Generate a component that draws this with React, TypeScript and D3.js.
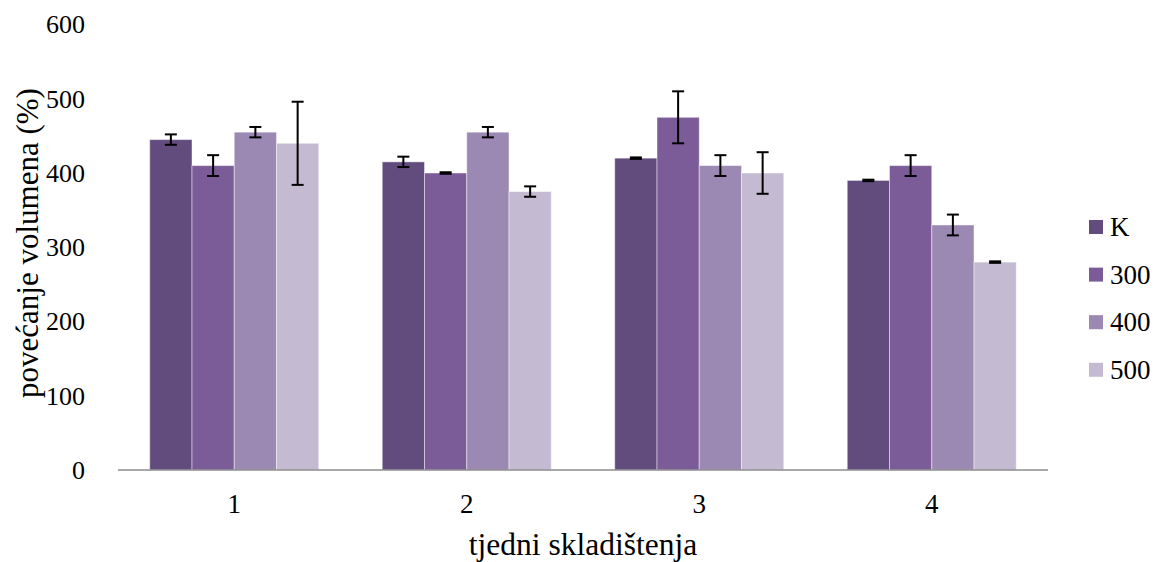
import React from "react";
import * as d3 from "d3";

const categories = ["1", "2", "3", "4"];
const seriesNames = ["K", "300", "400", "500"];
const seriesColors = ["#624c7e", "#7b5c98", "#9c89b3", "#c4bbd3"];
const valuesK = [445, 415, 420, 390];
const values300 = [410, 400, 475, 410];
const values400 = [455, 455, 410, 330];
const values500 = [440, 375, 400, 280];
const errK = [7, 7, 1, 1];
const err300 = [14, 1, 35, 14];
const err400 = [7, 7, 14, 14];
const err500 = [56, 7, 28, 1];
const yTicks = [0, 100, 200, 300, 400, 500, 600];

const allValues = [valuesK, values300, values400, values500];
const allErr = [errK, err300, err400, err500];

export default function App() {
  const W = 1158, H = 562;
  const left = 118, right = 1048, top = 24.5, bottom = 470;
  const x0 = d3.scaleBand().domain(categories).range([left, right]).paddingInner(0.273).paddingOuter(0.1365);
  const x1 = d3.scaleBand().domain(seriesNames).range([0, x0.bandwidth()]);
  const y = d3.scaleLinear().domain([0, 600]).range([bottom, top]);
  const font = "Liberation Serif, DejaVu Serif, serif";

  return (
    <svg width={W} height={H} style={{ position: "absolute", left: 0, top: 0, background: "#fff", fontFamily: font }}>
      {categories.map((c, ci) => (
        <g key={c}>
          {seriesNames.map((s, si) => {
            const v = allValues[si][ci];
            const bx = (x0(c) as number) + (x1(s) as number);
            return (
              <rect key={s} x={bx} y={y(v)} width={x1.bandwidth()} height={bottom - y(v)}
                fill={seriesColors[si]} stroke="#ffffff" strokeOpacity={0.45} strokeWidth={1} />
            );
          })}
        </g>
      ))}
      <line x1={left} x2={right} y1={bottom} y2={bottom} stroke="#8c8c8c" strokeWidth={1.5} />
      {categories.map((c, ci) => (
        <g key={"e" + c}>
          {seriesNames.map((s, si) => {
            const v = allValues[si][ci];
            const e = allErr[si][ci];
            const cx = (x0(c) as number) + (x1(s) as number) + x1.bandwidth() / 2;
            return (
              <g key={s} stroke="#000" strokeWidth={2}>
                <line x1={cx} x2={cx} y1={y(v + e)} y2={y(v - e)} />
                <line x1={cx - 6} x2={cx + 6} y1={y(v + e)} y2={y(v + e)} />
                <line x1={cx - 6} x2={cx + 6} y1={y(v - e)} y2={y(v - e)} />
              </g>
            );
          })}
        </g>
      ))}
      {yTicks.map((t) => (
        <text key={t} x={85} y={y(t)} dy="0.34em" textAnchor="end" fontSize={26} fill="#000">{t}</text>
      ))}
      {categories.map((c) => (
        <text key={"x" + c} x={(x0(c) as number) + x0.bandwidth() / 2} y={513} textAnchor="middle" fontSize={27} fill="#000">{c}</text>
      ))}
      <text x={583} y={555} textAnchor="middle" fontSize={31.5} fill="#000">tjedni skladištenja</text>
      <text transform={`translate(38, ${243}) rotate(-90)`} textAnchor="middle" fontSize={31} fill="#000">povećanje volumena (%)</text>
      {seriesNames.map((s, i) => (
        <g key={"l" + s} transform={`translate(1089, ${227 + i * 47.6})`}>
          <rect x={0} y={-7} width={14} height={14} fill={seriesColors[i]} />
          <text x={21} y={0} dy="0.34em" fontSize={27} fill="#000">{s}</text>
        </g>
      ))}
    </svg>
  );
}
